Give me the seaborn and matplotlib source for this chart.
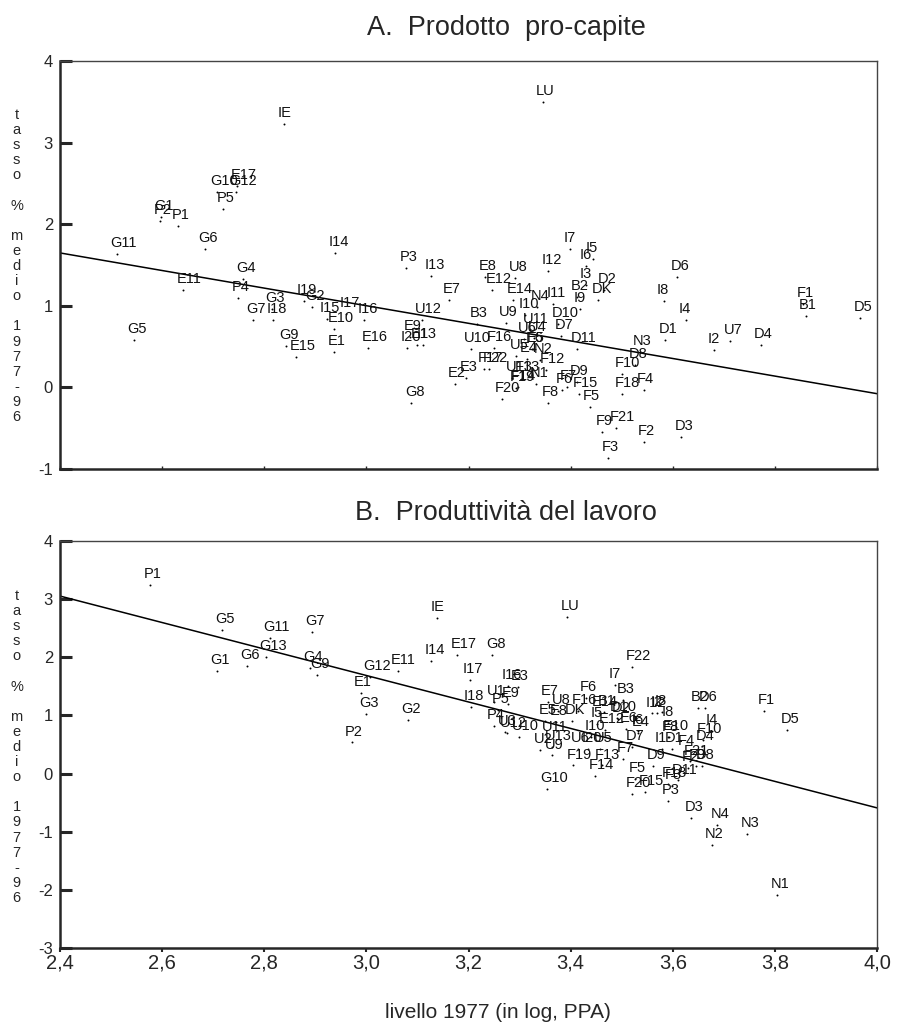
import matplotlib
matplotlib.use("Agg")
import matplotlib.pyplot as plt
import seaborn as sns

# ---- Panel A: prodotto pro-capite ----
a_names = ["IE", "LU", "G10", "G12", "E17", "P5", "G1", "P2", "P1", "G6", "G11", "I14",
           "G4", "E11", "P4", "G3", "I19", "G2", "G7", "I18", "I15", "I17", "E10", "G5",
           "G9", "E15", "E1", "I16", "E16", "P3", "I13", "E8", "E12", "E7", "U12", "B3",
           "E9", "I20", "E13", "I1", "U10", "F16", "F17", "F22", "E3", "E2", "F20", "G8",
           "U8", "I12", "I7", "I5", "I6", "I3", "D2", "B2", "DK", "I9", "I11", "N4",
           "E14", "I10", "U9", "D10", "U11", "D7", "D11", "U6", "U4", "E6", "E5", "U5",
           "E4", "N2", "U13", "F13", "F19", "F14", "N1", "F12", "F8", "F6", "F7", "D9",
           "F15", "F5", "F10", "D8", "N3", "F18", "F4", "F9", "F21", "F2", "F3", "D3",
           "D6", "I8", "I4", "D1", "I2", "U7", "D4", "F1", "B1", "D5"]
a_x = [2.839, 3.345, 2.707, 2.745, 2.747, 2.720, 2.598, 2.596, 2.632, 2.683, 2.511, 2.939,
       2.758, 2.641, 2.749, 2.815, 2.877, 2.894, 2.777, 2.818, 2.922, 2.961, 2.937, 2.544,
       2.842, 2.863, 2.937, 2.995, 3.004, 3.078, 3.127, 3.232, 3.247, 3.162, 3.108, 3.216,
       3.085, 3.080, 3.100, 3.111, 3.204, 3.249, 3.230, 3.241, 3.195, 3.173, 3.265, 3.088,
       3.291, 3.356, 3.399, 3.443, 3.430, 3.430, 3.465, 3.413, 3.454, 3.418, 3.365, 3.335,
       3.288, 3.311, 3.273, 3.375, 3.320, 3.382, 3.413, 3.309, 3.329, 3.324, 3.326, 3.294,
       3.314, 3.340, 3.285, 3.304, 3.294, 3.296, 3.333, 3.352, 3.356, 3.383, 3.392, 3.412,
       3.416, 3.437, 3.500, 3.526, 3.535, 3.500, 3.543, 3.462, 3.489, 3.544, 3.474, 3.616,
       3.609, 3.582, 3.625, 3.585, 3.681, 3.713, 3.772, 3.856, 3.860, 3.967]
a_y = [3.227, 3.493, 2.393, 2.393, 2.466, 2.184, 2.090, 2.045, 1.975, 1.702, 1.632, 1.648,
       1.334, 1.199, 1.100, 0.966, 1.055, 0.990, 0.822, 0.822, 0.843, 0.904, 0.720, 0.585,
       0.512, 0.377, 0.438, 0.831, 0.487, 1.460, 1.362, 1.353, 1.190, 1.076, 0.831, 0.782,
       0.617, 0.487, 0.524, 0.524, 0.475, 0.487, 0.221, 0.221, 0.114, 0.045, -0.139, -0.188,
       1.341, 1.423, 1.702, 1.579, 1.488, 1.252, 1.199, 1.108, 1.076, 0.966, 1.018, 0.985,
       1.076, 0.883, 0.789, 0.782, 0.708, 0.626, 0.475, 0.598, 0.610, 0.466, 0.470, 0.384,
       0.344, 0.335, 0.119, 0.119, -0.004, 0.000, 0.045, 0.209, -0.193, -0.037, 0.004, 0.066,
       -0.077, -0.242, 0.168, 0.270, 0.433, -0.077, -0.037, -0.548, -0.495, -0.671, -0.862, -0.613,
       1.353, 1.055, 0.822, 0.577, 0.463, 0.573, 0.524, 1.027, 0.880, 0.847]
a_fit_x = [2.4, 4.0]
a_fit_y = [1.648, -0.077]

# ---- Panel B: produttivita del lavoro ----
b_names = ["P1", "G5", "G11", "G7", "G13", "G6", "G1", "G4", "G9", "IE", "LU", "E17",
           "G8", "I14", "E11", "G12", "I17", "E1", "I18", "G3", "G2", "P2", "P4", "U12",
           "F22", "I7", "B3", "F6", "E7", "I16", "E3", "U1", "E9", "P5", "U8", "F16",
           "E8", "E5", "DK", "B1", "E14", "D2", "D10", "I5", "E12", "E6", "I6", "E4",
           "I12", "I3", "I8", "F8", "E10", "I1", "D1", "F4", "D4", "F10", "I4", "B2",
           "D6", "F1", "D5", "D3", "N4", "N3", "N2", "N1", "F21", "D8", "F9", "F2",
           "D11", "F18", "F3", "P3", "F15", "F20", "F5", "D9", "D7", "F7", "U6", "I20",
           "U5", "I10", "F19", "F13", "F14", "G10", "U9", "U2", "U13", "U11", "U10", "U3",
           "I2"]
b_x = [2.577, 2.717, 2.811, 2.894, 2.803, 2.766, 2.707, 2.890, 2.903, 3.139, 3.393, 3.178,
       3.247, 3.127, 3.061, 3.007, 3.202, 2.989, 3.204, 2.999, 3.082, 2.971, 3.249, 3.275,
       3.521, 3.487, 3.503, 3.430, 3.355, 3.277, 3.296, 3.249, 3.278, 3.258, 3.376, 3.415,
       3.372, 3.350, 3.402, 3.466, 3.455, 3.493, 3.490, 3.451, 3.467, 3.509, 3.532, 3.532,
       3.559, 3.578, 3.591, 3.591, 3.593, 3.578, 3.598, 3.623, 3.658, 3.660, 3.677, 3.649,
       3.664, 3.779, 3.824, 3.636, 3.687, 3.746, 3.676, 3.804, 3.634, 3.657, 3.645, 3.630,
       3.611, 3.591, 3.598, 3.591, 3.546, 3.521, 3.526, 3.562, 3.520, 3.503, 3.414, 3.435,
       3.458, 3.440, 3.405, 3.461, 3.448, 3.354, 3.363, 3.340, 3.363, 3.356, 3.298, 3.271,
       3.570]
b_y = [3.243, 2.468, 2.325, 2.429, 1.998, 1.848, 1.762, 1.809, 1.694, 2.670, 2.692, 2.038,
       2.038, 1.935, 1.762, 1.664, 1.608, 1.389, 1.138, 1.017, 0.914, 0.535, 0.816, 0.690,
       1.826, 1.522, 1.263, 1.293, 1.224, 1.510, 1.492, 1.224, 1.195, 1.086, 1.079, 1.079,
       0.890, 0.907, 0.897, 1.052, 1.050, 0.936, 0.950, 0.850, 0.752, 0.764, 0.735, 0.700,
       1.034, 1.062, 0.867, 0.621, 0.630, 0.425, 0.415, 0.380, 0.466, 0.570, 0.725, 1.131,
       1.131, 1.069, 0.747, -0.762, -0.876, -1.031, -1.232, -2.081, 0.208, 0.127, 0.130, 0.100,
       -0.119, -0.177, -0.220, -0.470, -0.320, -0.350, -0.101, 0.127, 0.455, 0.243, 0.425, 0.415,
       0.415, 0.627, 0.139, 0.139, -0.045, -0.263, 0.311, 0.408, 0.455, 0.609, 0.627, 0.713,
       1.050]
b_fit_x = [2.4, 4.0]
b_fit_y = [3.053, -0.590]

x_ticks = [2.4, 2.6, 2.8, 3.0, 3.2, 3.4, 3.6, 3.8, 4.0]
x_tick_labels = ["2,4", "2,6", "2,8", "3,0", "3,2", "3,4", "3,6", "3,8", "4,0"]
a_yticks = [4, 3, 2, 1, 0, -1]
b_yticks = [4, 3, 2, 1, 0, -1, -2, -3]

sns.set_style("ticks")
plt.rcParams['font.family'] = ['Liberation Sans', 'DejaVu Sans']

W, H = 897, 1028
fig = plt.figure(figsize=(W / 100, H / 100), dpi=100)
ax_a = fig.add_axes([60 / W, 1 - 469 / H, 817 / W, 408 / H])
ax_b = fig.add_axes([60 / W, 1 - 948 / H, 817 / W, 407 / H])


def draw_panel(ax, names, xs, ys, fit_x, fit_y, yticks):
    sns.scatterplot(x=xs, y=ys, ax=ax, s=2, color='black', linewidth=0)
    for n, x, y in zip(names, xs, ys):
        ax.annotate(n, (x, y), xytext=(-4.7, 5.0), textcoords='offset points',
                    ha='left', va='baseline', fontsize=10.5, color='#111111')
    ax.plot(fit_x, fit_y, color='black', lw=1.1)
    ax.set_xlim(2.4, 4.0)
    ax.set_ylim(min(yticks), max(yticks))
    ax.set_yticks(yticks)
    ax.set_yticklabels([str(t) for t in yticks], fontsize=12)
    ax.set_xticks(x_ticks)
    ax.tick_params(axis='y', direction='in', length=8.6, width=2.2, pad=5)
    for s in ['left', 'bottom']:
        ax.spines[s].set_linewidth(1.8)
    for s in ['top', 'right']:
        ax.spines[s].set_linewidth(1.0)
        ax.spines[s].set_color('#444444')


draw_panel(ax_a, a_names, a_x, a_y, a_fit_x, a_fit_y, a_yticks)
ax_a.tick_params(axis='x', direction='in', length=2, width=1, labelbottom=False)

draw_panel(ax_b, b_names, b_x, b_y, b_fit_x, b_fit_y, b_yticks)
ax_b.set_xticklabels(x_tick_labels, fontsize=14.5)
ax_b.tick_params(axis='x', direction='out', length=3, width=1.5, pad=1)

fig.text(506 / W, 1 - 28 / H, "A.  Prodotto  pro-capite", ha='center', va='center', fontsize=19.5)
fig.text(506 / W, 1 - 513 / H, "B.  Produttività del lavoro", ha='center', va='center', fontsize=19.5)
fig.text(498 / W, 1 - 1012 / H, "livello 1977 (in log, PPA)", ha='center', va='center',
         fontsize=15)

ylab = "\n".join(list("tasso") + [""] + ["%"] + [""] + list("medio") + [""] + list("1977-96"))
fig.text(16.5 / W, 1 - 266 / H, ylab, ha='center', va='center', fontsize=10.5,
         linespacing=1.1)
fig.text(16.5 / W, 1 - 747 / H, ylab, ha='center', va='center', fontsize=10.5,
         linespacing=1.1)

fig.savefig("out.png", dpi=100)
